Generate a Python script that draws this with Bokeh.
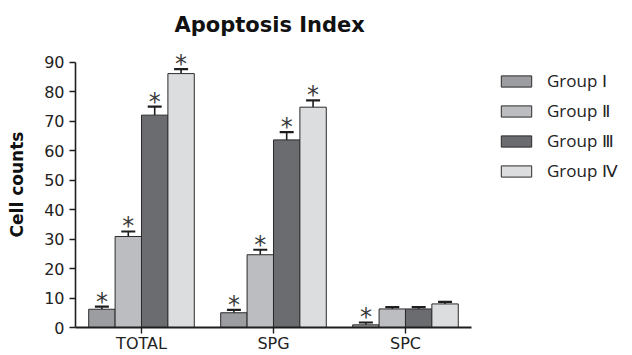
from bokeh.plotting import figure
from bokeh.models import ColumnDataSource, Whisker, TeeHead, Legend, LegendItem, Range1d, FixedTicker
from bokeh.core.properties import value
from bokeh.embed import file_html
from bokeh.resources import INLINE

categories = ["TOTAL", "SPG", "SPC"]
group_names = ["Group Ⅰ", "Group Ⅱ", "Group Ⅲ", "Group Ⅳ"]
group1 = [6.2, 5.0, 0.9]
group2 = [30.9, 24.7, 6.3]
group3 = [72.1, 63.7, 6.3]
group4 = [86.2, 74.8, 8.0]
upper1 = [7.1, 6.0, 1.7]
upper2 = [32.6, 26.4, 6.9]
upper3 = [75.0, 66.3, 6.9]
upper4 = [87.7, 77.1, 8.7]
sig1 = [True, True, True]
sig2 = [True, True, False]
sig3 = [True, True, False]
sig4 = [True, True, False]
y_ticks = [0, 10, 20, 30, 40, 50, 60, 70, 80, 90]

colors = ["#9c9da0", "#bcbdc0", "#6b6c6f", "#dcdddf"]
offsets = [-0.3, -0.1, 0.1, 0.3]
values_all = [group1, group2, group3, group4]
uppers_all = [upper1, upper2, upper3, upper4]
sigs_all = [sig1, sig2, sig3, sig4]

FONT = "DejaVu Sans"
ncat = len(categories)
centers = [k + 0.5 for k in range(ncat)]

p = figure(width=632, height=355, x_range=Range1d(0, 4.22), y_range=Range1d(0, 97.1),
           output_backend="svg", toolbar_location=None,
           min_border_left=75, min_border_right=0, min_border_top=41, min_border_bottom=28)

p.title.text = "Apoptosis Index"
p.title.text_font = FONT
p.title.text_font_size = "21px"
p.title.text_font_style = "bold"
p.title.align = "left"
p.title.offset = 99
p.title.text_color = "#111111"

p.outline_line_color = None
p.xgrid.grid_line_color = None
p.ygrid.grid_line_color = None

items = []
for i in range(4):
    xs = [c + offsets[i] for c in centers]
    src = ColumnDataSource(dict(x=xs, top=values_all[i], upper=uppers_all[i]))
    r = p.vbar(x="x", top="top", bottom=0, width=0.2,
               source=src, fill_color=colors[i], line_color="#2a2a2a", line_width=1)
    items.append(LegendItem(label=group_names[i], renderers=[r]))
    w = Whisker(source=src, base="x", upper="upper", lower="top",
                line_color="#1e1e1e", line_width=1.6,
                upper_head=TeeHead(size=14, line_color="#1e1e1e", line_width=2.2), lower_head=None)
    p.add_layout(w)
    sx = [x for x, s in zip(xs, sigs_all[i]) if s]
    sy = [u for u, s in zip(uppers_all[i], sigs_all[i]) if s]
    ssrc = ColumnDataSource(dict(x=sx, y=sy, t=["*"] * len(sx)))
    p.text(x="x", y="y", text="t", source=ssrc,
           text_font=value(FONT), text_font_size="24px", text_align="center",
           text_baseline="alphabetic", y_offset=-5, text_color="#3a3a3a")

p.yaxis.ticker = FixedTicker(ticks=y_ticks)
p.yaxis.bounds = (0, 90)
p.yaxis.axis_label = "Cell counts"
p.yaxis.axis_label_text_font = FONT
p.yaxis.axis_label_text_font_size = "17px"
p.yaxis.axis_label_text_font_style = "bold"
p.yaxis.axis_label_text_color = "#111111"
p.yaxis.axis_label_standoff = 14
p.yaxis.major_label_text_font = FONT
p.yaxis.major_label_text_font_size = "16px"
p.yaxis.major_label_text_color = "#222222"
p.yaxis.major_label_standoff = 5
p.yaxis.minor_tick_line_color = None
p.yaxis.major_tick_in = 0
p.yaxis.major_tick_out = 6
p.yaxis.axis_line_width = 1.6
p.yaxis.axis_line_color = "#1e1e1e"
p.yaxis.major_tick_line_width = 1.4
p.yaxis.major_tick_line_color = "#1e1e1e"

p.xaxis.ticker = FixedTicker(ticks=centers)
p.xaxis.major_label_overrides = {c: name for c, name in zip(centers, categories)}
p.xaxis.bounds = (0, ncat)
p.xaxis.minor_tick_line_color = None
p.xaxis.major_label_text_font = FONT
p.xaxis.major_label_text_font_size = "16px"
p.xaxis.major_label_text_color = "#222222"
p.xaxis.major_label_standoff = 0
p.xaxis.major_tick_in = 0
p.xaxis.major_tick_out = 6
p.xaxis.axis_line_width = 1.8
p.xaxis.axis_line_color = "#1e1e1e"
p.xaxis.major_tick_line_width = 1.4
p.xaxis.major_tick_line_color = "#1e1e1e"

legend = Legend(items=items, location=(422, 145), orientation="vertical",
                glyph_width=38, glyph_height=14, label_height=20, spacing=7,
                label_standoff=12, padding=0, margin=0, border_line_color=None,
                background_fill_alpha=0,
                label_text_font="Open Sans", label_text_font_size="17px",
                label_text_color="#222222", label_text_baseline="middle")
p.add_layout(legend, "center")

open("out.html", "w").write(file_html(p, INLINE))
